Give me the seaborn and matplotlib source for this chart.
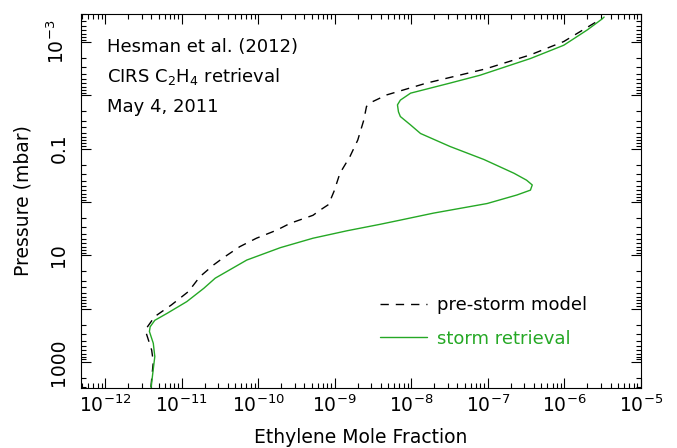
import matplotlib
matplotlib.use("Agg")
import matplotlib.pyplot as plt
import matplotlib.ticker as mticker
import numpy as np
import seaborn as sns

# storm retrieval (green), bottom to top
storm_p = [3160, 794, 447, 269, 219, 166, 123, 74, 41.7, 26.9, 12.3, 7.2, 4.79,
           3.47, 2.63, 2.19, 1.62, 1.07, 0.74, 0.60, 0.48, 0.39, 0.29, 0.16,
           0.091, 0.052, 0.036, 0.025, 0.0204, 0.0151, 0.0123, 0.0091, 0.0059,
           0.0042, 0.00204, 0.00115, 0.00059, 0.00037, 0.00034]
storm_x = [3.98e-12, 4.47e-12, 4.27e-12, 3.80e-12, 3.89e-12, 4.47e-12, 6.46e-12,
           1.17e-11, 1.95e-11, 2.75e-11, 7.1e-11, 1.95e-10, 5.2e-10,
           1.45e-9, 3.9e-9, 7.2e-9, 1.95e-8, 9.8e-8, 2.4e-7, 3.6e-7, 3.8e-7,
           3.2e-7, 2.2e-7, 8.9e-8, 3.2e-8, 1.32e-8, 9.8e-9, 7.2e-9, 6.8e-9,
           6.6e-9, 7.2e-9, 9.8e-9, 3.2e-8, 7.9e-8, 3.6e-7, 9.8e-7, 2.0e-6,
           3.1e-6, 3.3e-6]

# pre-storm model (black dashed)
pre_p = [2950, 1000, 603, 295, 234, 141, 85, 47.9, 25.1, 15.1, 11.0, 6.9, 4.79,
         3.39, 2.51, 1.78, 1.41, 1.12, 0.63, 0.29, 0.141, 0.069, 0.029, 0.0162,
         0.0132, 0.0098, 0.0059, 0.0032, 0.00174, 0.00098, 0.00042, 0.00034]
pre_x = [3.98e-12, 4.27e-12, 4.07e-12, 3.47e-12, 3.47e-12, 4.47e-12, 7.4e-12,
         1.23e-11, 1.74e-11, 2.63e-11, 3.55e-11, 5.75e-11, 9.5e-11, 1.74e-10,
         2.63e-10, 5.2e-10, 6.5e-10, 8.3e-10, 9.8e-10, 1.17e-9, 1.58e-9,
         2.0e-9, 2.4e-9, 2.6e-9, 3.1e-9, 4.8e-9, 1.58e-8, 9.3e-8, 3.6e-7,
         9.8e-7, 2.6e-6, 2.75e-6]

x_ticks = [1e-12, 1e-11, 1e-10, 1e-9, 1e-8, 1e-7, 1e-6, 1e-5]
y_ticks = [1e-3, 1e-2, 1e-1, 1, 10, 100, 1000]
y_ticklabels = [r"$10^{-3}$", "", "0.1", "", "10", "", "1000"]

GREEN = "#25a825"
DASH = (6, 5)

sns.set_style("ticks")
plt.rcParams["font.family"] = ["DejaVu Sans"]
plt.rcParams["text.color"] = "black"
plt.rcParams["axes.labelcolor"] = "black"
plt.rcParams["xtick.color"] = "black"
plt.rcParams["ytick.color"] = "black"

fig = plt.figure(figsize=(6.77, 4.48), dpi=100)
ax = fig.add_axes([0.1196, 0.1339, 0.8272, 0.8348])

sns.lineplot(x=pre_x, y=pre_p, sort=False, estimator=None, ax=ax,
             color="black", lw=1.0, label="pre-storm model")
ax.lines[-1].set_dashes(DASH)
sns.lineplot(x=storm_x, y=storm_p, sort=False, estimator=None, ax=ax,
             color=GREEN, lw=1.0, label="storm retrieval")

ax.set_xscale("log")
ax.set_yscale("log")
ax.set_xlim(10 ** -12.314, 1e-5)
ax.set_ylim(10 ** 3.49, 10 ** -3.525)

ax.xaxis.set_major_locator(mticker.FixedLocator(x_ticks))
ax.xaxis.set_major_formatter(mticker.LogFormatterSciNotation())
ax.xaxis.set_minor_locator(mticker.LogLocator(base=10, subs=np.arange(2, 10), numticks=20))
ax.xaxis.set_minor_formatter(mticker.NullFormatter())
ax.yaxis.set_major_locator(mticker.FixedLocator(y_ticks))
ax.yaxis.set_major_formatter(mticker.FixedFormatter(y_ticklabels))
ax.yaxis.set_minor_locator(mticker.LogLocator(base=10, subs=np.arange(2, 10), numticks=20))
ax.yaxis.set_minor_formatter(mticker.NullFormatter())

ax.tick_params(which="both", direction="in", top=True, right=True, width=0.8)
ax.tick_params(which="major", length=7)
ax.tick_params(which="minor", length=3.5)
ax.tick_params(axis="x", which="major", pad=5, labelsize=13.5)
ax.tick_params(axis="y", which="major", pad=9, labelsize=13.5, labelrotation=90)
for lab in ax.get_yticklabels():
    lab.set_va("center")
for sp in ax.spines.values():
    sp.set_linewidth(0.8)
    sp.set_color("black")

ax.set_xlabel("Ethylene Mole Fraction", fontsize=13.5)
ax.set_ylabel("Pressure (mbar)", fontsize=13.5)
ax.xaxis.set_label_coords(0.5, -0.108)
ax.yaxis.set_label_coords(-0.086, 0.5)

# annotation block, top left
for yy, txt in [(0.912, "Hesman et al. (2012)"),
                (0.832, r"CIRS C$_2$H$_4$ retrieval"),
                (0.751, "May 4, 2011")]:
    ax.text(0.046, yy, txt, transform=ax.transAxes, fontsize=13, va="center", ha="left")

leg = ax.legend(loc="upper left", bbox_to_anchor=(0.534, 0.245), frameon=False,
                borderpad=0, borderaxespad=0, handlelength=2.6, handletextpad=0.55,
                labelspacing=0.85, fontsize=13, labelcolor="linecolor")
leg.get_lines()[0].set_dashes(DASH)

fig.savefig("out.png", dpi=100)
